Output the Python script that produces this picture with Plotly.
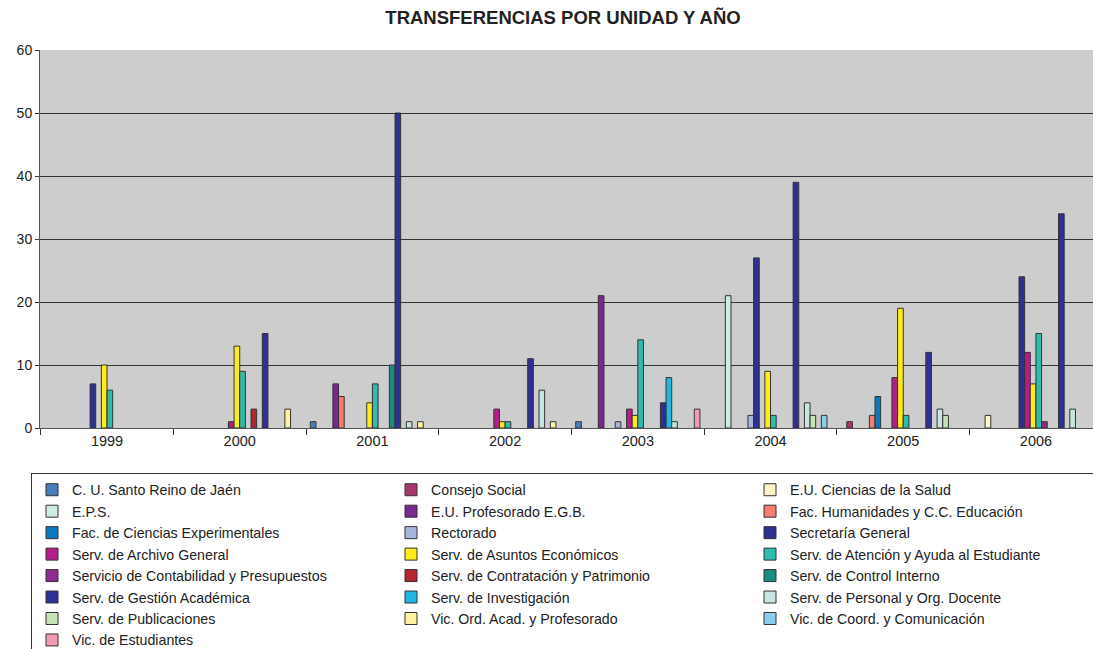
import plotly.graph_objects as go

years = ["1999", "2000", "2001", "2002", "2003", "2004", "2005", "2006"]

units = [
    "C. U. Santo Reino de Jaén",
    "Consejo Social",
    "E.U. Ciencias de la Salud",
    "E.P.S.",
    "E.U. Profesorado E.G.B.",
    "Fac. Humanidades y C.C. Educación",
    "Fac. de Ciencias Experimentales",
    "Rectorado",
    "Secretaría General",
    "Serv. de Archivo General",
    "Serv. de Asuntos Económicos",
    "Serv. de Atención y Ayuda al Estudiante",
    "Servicio de Contabilidad y Presupuestos",
    "Serv. de Contratación y Patrimonio",
    "Serv. de Control Interno",
    "Serv. de Gestión Académica",
    "Serv. de Investigación",
    "Serv. de Personal y Org. Docente",
    "Serv. de Publicaciones",
    "Vic. Ord. Acad. y Profesorado",
    "Vic. de Coord. y Comunicación",
    "Vic. de Estudiantes",
]

N = None
# values per unit, years 1999..2006 (None = no transfer)
cu_santo_reino   = [N, N, 1, N, 1, N, N, N]
consejo_social   = [N, N, N, N, N, N, 1, N]
eu_ciencias_sal  = [N, N, N, N, N, N, N, 2]
eps              = [N, N, N, N, N, 21, N, N]
eu_profesorado   = [N, N, 7, N, 21, N, N, N]
fac_humanidades  = [N, N, 5, N, N, N, 2, N]
fac_ciencias_exp = [N, N, N, N, N, N, 5, N]
rectorado        = [N, N, N, N, 1, 2, N, N]
secretaria_gen   = [7, N, N, N, N, 27, N, 24]
archivo_general  = [N, 1, N, 3, 3, N, 8, 12]
asuntos_econ     = [10, 13, 4, 1, 2, 9, 19, 7]
atencion_estud   = [6, 9, 7, 1, 14, 2, 2, 15]
contabilidad     = [N, N, N, N, N, N, N, 1]
contratacion     = [N, 3, N, N, N, N, N, N]
control_interno  = [N, N, 10, N, N, N, N, N]
gestion_academ   = [N, 15, 50, 11, 4, 39, 12, 34]
investigacion    = [N, N, N, N, 8, N, N, N]
personal_docente = [N, N, 1, 6, 1, 4, 3, 3]
publicaciones    = [N, N, N, N, N, 2, 2, N]
vic_ord_acad     = [N, 3, 1, 1, N, N, N, N]
vic_coord        = [N, N, N, N, N, 2, N, N]
vic_estudiantes  = [N, N, N, N, 3, N, N, N]

series = [
    cu_santo_reino, consejo_social, eu_ciencias_sal, eps, eu_profesorado,
    fac_humanidades, fac_ciencias_exp, rectorado, secretaria_gen,
    archivo_general, asuntos_econ, atencion_estud, contabilidad,
    contratacion, control_interno, gestion_academ, investigacion,
    personal_docente, publicaciones, vic_ord_acad, vic_coord, vic_estudiantes,
]

colors = [
    "#4A7EBB", "#A8376F", "#FFF5C8", "#CCEBE5", "#7A2990", "#F47C70",
    "#0C78BE", "#A6B6DC", "#2E3192", "#B51D8C", "#FFEC1A", "#2EBBB0",
    "#8E2C8D", "#B32630", "#1D8A80", "#2E3192", "#21B6E3", "#C7E6E1",
    "#C6E4B8", "#FFF2A0", "#8CCDEA", "#F39AB3",
]

fig = go.Figure()
for name, vals, col in zip(units, series, colors):
    fig.add_trace(go.Bar(
        x=years, y=vals, name=name,
        marker=dict(color=col, line=dict(color="#333333", width=1)),
    ))

font_family = "Liberation Sans, Arial, sans-serif"

W, H = 1093, 649

fig.update_layout(
    width=W, height=H,
    margin=dict(l=40, r=0, t=50, b=221, autoexpand=False),
    paper_bgcolor="white",
    plot_bgcolor="#CDCDCD",
    barmode="group",
    bargap=0.064,
    bargroupgap=0,
    font=dict(family=font_family, size=14, color="#222222"),
    title=dict(
        text="<b>TRANSFERENCIAS POR UNIDAD Y AÑO</b>",
        x=563 / W, xanchor="center", xref="container",
        y=1 - 18 / H, yanchor="middle", yref="container",
        font=dict(size=18.5, family=font_family, color="#222222"),
    ),
    xaxis=dict(
        type="category",
        range=[-0.505, 7.43],
        showgrid=False,
        showline=True, linecolor="#555555", linewidth=1,
        ticks="outside", tickson="boundaries", ticklen=6,
        tickcolor="#333333",
        tickfont=dict(size=14.5),
    ),
    yaxis=dict(
        range=[0, 60], dtick=10,
        showgrid=True, gridcolor="#333333", gridwidth=1,
        showline=True, linecolor="#555555", linewidth=1,
        ticks="outside", ticklen=4, tickcolor="#333333",
        tickfont=dict(size=14),
        zeroline=False,
    ),
    legend=dict(
        orientation="h",
        x=-9 / 1053, xanchor="left",
        y=-45 / 378, yanchor="top",
        entrywidth=314, entrywidthmode="pixels",
        bordercolor="#333333", borderwidth=1,
        bgcolor="white",
        font=dict(size=14.2, family=font_family, color="#222222"),
        traceorder="normal",
    ),
    showlegend=True,
)

fig.write_html(
    "out.html",
    config={"displayModeBar": False},
    post_script="document.body.style.margin='0';document.body.style.overflow='hidden';",
)
